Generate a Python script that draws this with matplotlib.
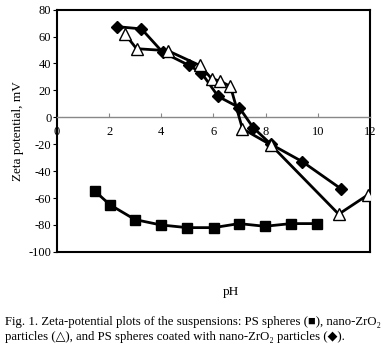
import matplotlib
matplotlib.use("Agg")
import matplotlib.pyplot as plt

plt.rcParams['font.family'] = ['Liberation Serif', 'DejaVu Sans']

# PS spheres (squares)
ps_ph = [1.46, 2.03, 2.99, 3.98, 4.99, 6.01, 6.98, 7.97, 8.97, 9.96]
ps_zeta = [-55, -65, -76, -80, -82, -82, -79, -81, -79, -79]

# nano-ZrO2 particles (open triangles)
zr_ph = [2.6, 3.05, 4.25, 5.48, 5.93, 6.24, 6.65, 7.11, 8.2, 10.8, 11.93]
zr_zeta = [62, 51, 49.5, 38.5, 28.7, 27, 23, -8.5, -20.5, -72, -57.5]

# PS spheres coated with nano-ZrO2 (diamonds)
co_ph = [2.29, 3.24, 4.05, 5.07, 5.54, 6.18, 6.99, 7.52, 8.2, 9.41, 10.9]
co_zeta = [67.4, 65.7, 48.4, 38.5, 33, 15.5, 7.2, -7.6, -20, -33, -53.3]

x_ticks = [0, 2, 4, 6, 8, 10, 12]
y_ticks = [-100, -80, -60, -40, -20, 0, 20, 40, 60, 80]

fig = plt.figure(figsize=(3.85, 3.45), dpi=100)
ax = fig.add_axes([0.148, 0.270, 0.813, 0.702])

ax.plot(ps_ph, ps_zeta, color='black', lw=2, marker='s', ms=7,
        mfc='black', mec='black', zorder=3)
ax.plot(co_ph, co_zeta, color='black', lw=2, marker='D', ms=6,
        mfc='black', mec='black', zorder=3)
ax.plot(zr_ph, zr_zeta, color='black', lw=2, marker='^', ms=8,
        mfc='white', mec='black', mew=1, zorder=4)

ax.set_xlim(0, 12)
ax.set_ylim(-100, 80)
ax.set_xticks(x_ticks)
ax.set_yticks(y_ticks)

# x axis crosses at zero
ax.spines['bottom'].set_position(('data', 0))
ax.spines['bottom'].set_color('#888888')
ax.spines['bottom'].set_linewidth(1)
for s in ['left', 'top', 'right']:
    ax.spines[s].set_linewidth(1.5)
ax.axhline(-100, color='black', lw=1.5, clip_on=False, zorder=5)

ax.tick_params(axis='x', direction='in', length=3, color='#888888',
               labelsize=9, pad=6)
ax.tick_params(axis='y', direction='out', length=3, labelsize=9, pad=1)
ax.set_yticklabels([str(v) for v in y_ticks])

ax.set_ylabel('Zeta potential, mV', fontsize=9.5, labelpad=3)
fig.text(0.60, 0.155, 'pH', fontsize=9.5, ha='center', va='center')

fig.text(0.012, 0.068,
         'Fig. 1. Zeta-potential plots of the suspensions: PS spheres (■), nano-ZrO₂',
         fontsize=9.2, ha='left', va='center')
fig.text(0.012, 0.024,
         'particles (△), and PS spheres coated with nano-ZrO₂ particles (◆).',
         fontsize=9.2, ha='left', va='center')

fig.savefig('out.png', dpi=100)
